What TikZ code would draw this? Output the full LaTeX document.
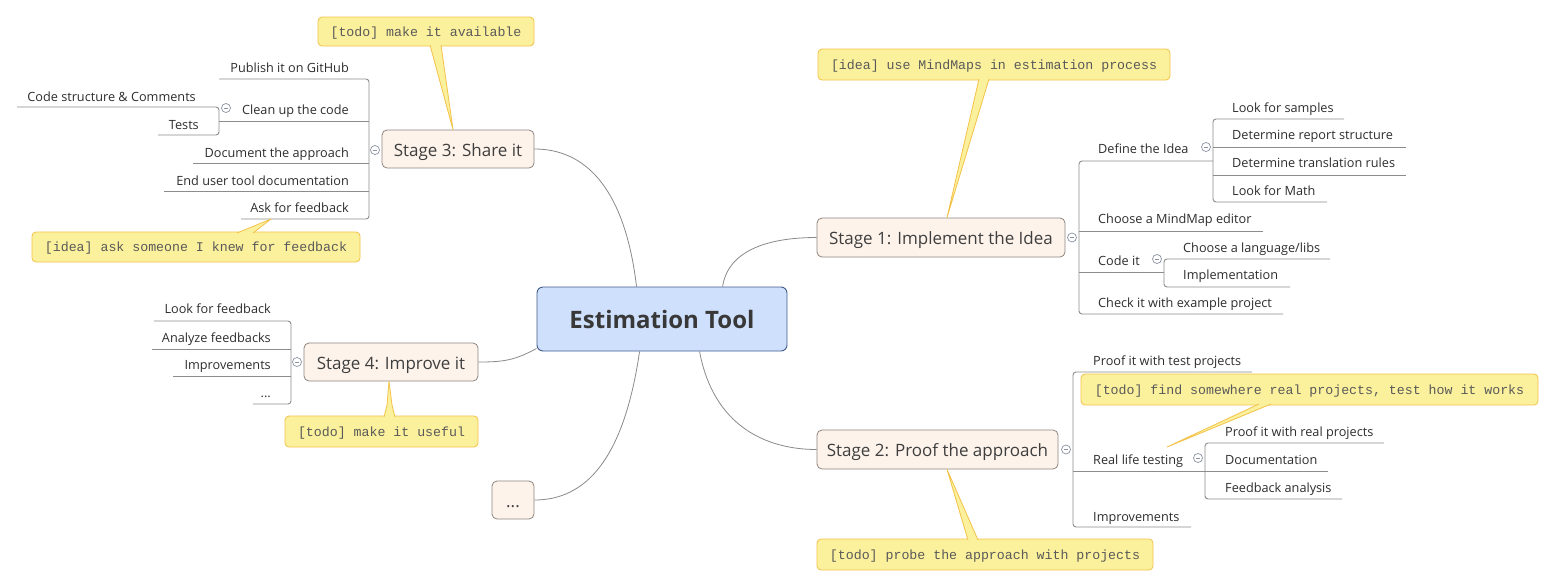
\documentclass[tikz,border=0pt]{standalone}
\usepackage{fontspec}
\setmainfont{Open Sans}
\newfontfamily\notefont{Liberation Mono}
\definecolor{centralfill}{HTML}{CFE0FD}
\definecolor{centralline}{HTML}{3F5B8C}
\definecolor{stagefill}{HTML}{FDF3EB}
\definecolor{stageline}{HTML}{8E8580}
\definecolor{notefill}{HTML}{FBF09C}
\definecolor{noteline}{HTML}{F3C24A}
\definecolor{linkcol}{HTML}{8A8A8A}
\definecolor{branchcol}{HTML}{8C8C8C}
\definecolor{leaftext}{HTML}{2E2E2E}
\definecolor{stagetext}{HTML}{3E3E3E}
\definecolor{notetext}{HTML}{5A5A5A}
\definecolor{collapsecol}{HTML}{8A93A3}
\tikzset{
  central/.style={draw=centralline, fill=centralfill, line width=0.9pt, rounded corners=6pt,
    minimum width=250pt, minimum height=64pt, inner sep=0pt, text=stagetext!90!black,
    text height=19pt, text depth=0pt,
    font=\fontsize{24}{28}\selectfont\bfseries},
  stagebox/.style={draw=stageline, fill=stagefill, line width=0.8pt, rounded corners=5pt,
    minimum height=38pt, inner sep=0pt, text=stagetext, text height=14pt, text depth=0pt,
    font=\fontsize{17}{20}\selectfont},
  leafl/.style={anchor=base west, yshift=-5.3pt, inner sep=0pt, text=leaftext,
    font=\fontsize{12.7}{15}\selectfont},
  leafr/.style={anchor=base east, yshift=-5.3pt, inner sep=0pt, text=leaftext,
    font=\fontsize{12.7}{15}\selectfont},
  notebox/.style={draw=noteline, fill=notefill, line width=0.8pt, rounded corners=4pt,
    inner sep=0pt, minimum height=30pt, text=notetext, text height=9pt, text depth=0pt,
    font=\notefont\fontsize{13.25}{15}\selectfont},
  link/.style={draw=linkcol, line width=0.8pt},
  branch/.style={draw=branchcol, line width=0.9pt, rounded corners=3pt},
  pointerfill/.style={fill=notefill},
  pointerline/.style={draw=noteline, line width=0.8pt, line join=round},
  collapse/.style={circle, draw=collapsecol, fill=white, line width=0.7pt, minimum size=9pt, inner sep=0pt,
    path picture={\draw[collapsecol, line width=0.7pt]
      ([xshift=-2.4pt]path picture bounding box.center) -- ([xshift=2.4pt]path picture bounding box.center);}}
}
\begin{document}
\begin{tikzpicture}[x=1pt, y=-1pt]
\useasboundingbox (0,0) rectangle (1555,587);
\fill[white] (0,0) rectangle (1555,587);

% ---------- main nodes ----------
\node[central] (c) at (662,319) {Estimation Tool};
\node[stagebox, minimum width=248pt, minimum height=39pt] (s1) at (941,237.5) {Stage 1: Implement the Idea};
\node[stagebox, minimum width=241pt, minimum height=39pt] (s2) at (937.5,449.5) {Stage 2: Proof the approach};
\node[stagebox, minimum width=152pt] (s3) at (458,149) {Stage 3: Share it};
\node[stagebox, minimum width=174pt] (s4) at (391,362) {Stage 4: Improve it};
\node[stagebox, minimum width=42pt] (dots) at (513,500) {...};

% ---------- central connectors ----------
\draw[link] ([xshift=186pt]c.north west) .. controls +(6,-38) and +(-45,0) .. (s1.west);
\draw[link] ([xshift=163pt]c.south west) .. controls +(14,75) and +(-50,0) .. (s2.west);
\draw[link] ([xshift=100pt]c.north west) .. controls +(-12,-100) and +(50,0) .. (s3.east);
\draw[link] ([yshift=3pt]c.south west) .. controls +(-22,12) and +(25,0) .. (s4.east);
\draw[link] ([xshift=103pt]c.south west) .. controls +(-16,110) and +(50,0) .. (dots.east);

% ---------- Stage 3 branch ----------
\coordinate (s3top) at (219,79);
\coordinate (s3bot) at (241,219);
\draw[branch] (s3top) -- (369,79) -- (369,219) -- (s3bot);
\draw[branch] (219,121) -- (369,121);
\draw[branch] (193,163) -- (369,163);
\draw[branch] (164,191) -- (369,191);
\draw[branch] (17,107) -- (219,107) -- (219,135) -- (158,135);
\node[leafr] (l31) at (349,67) {Publish it on GitHub};
\node[leafr] (l32) at (349,109) {Clean up the code};
\node[leafr] (l321) at (196,96) {Code structure \& Comments};
\node[leafr] (l322) at (199,124) {Tests};
\node[leafr] (l33) at (349,152) {Document the approach};
\node[leafr] (l34) at (349,180) {End user tool documentation};
\node[leafr] (l35) at (349,207) {Ask for feedback};
\node[collapse] (k3) at (375,150) {};
\node[collapse] (k32) at (226,108) {};

% ---------- Stage 1 branch ----------
\draw[branch] (1213,161) -- (1079,161) -- (1079,314) -- (1283,314);
\draw[branch] (1079,231) -- (1263,231);
\draw[branch] (1079,272) -- (1164,272);
\draw[branch] (1344,119) -- (1213,119) -- (1213,202) -- (1327,202);
\draw[branch] (1213,147) -- (1406,147);
\draw[branch] (1213,175) -- (1406,175);
\draw[branch] (1330,259) -- (1164,259) -- (1164,287) -- (1290,287);
\node[leafl] (l11) at (1098,148) {Define the Idea};
\node[leafl] (l111) at (1232,107) {Look for samples};
\node[leafl] (l112) at (1232,134) {Determine report structure};
\node[leafl] (l113) at (1232,162) {Determine translation rules};
\node[leafl] (l114) at (1232,190) {Look for Math};
\node[leafl] (l12) at (1098,218) {Choose a MindMap editor};
\node[leafl] (l13) at (1098,260) {Code it};
\node[leafl] (l131) at (1183,247) {Choose a language/libs};
\node[leafl] (l132) at (1183,274) {Implementation};
\node[leafl] (l14) at (1098,302) {Check it with example project};
\node[collapse] (k1) at (1072,237.5) {};
\node[collapse] (k11) at (1206,147) {};
\node[collapse] (k13) at (1157,259) {};

% ---------- Stage 2 branch ----------
\draw[branch] (1252,372) -- (1073,372) -- (1073,527) -- (1191,527);
\draw[branch] (1073,471) -- (1205,471);
\draw[branch] (1384,443) -- (1205,443) -- (1205,499) -- (1342,499);
\draw[branch] (1205,471) -- (1328,471);
\node[leafl] (l21) at (1093,360) {Proof it with test projects};
\node[leafl] (l22) at (1093,459) {Real life testing};
\node[leafl] (l221) at (1225,431) {Proof it with real projects};
\node[leafl] (l222) at (1225,459) {Documentation};
\node[leafl] (l223) at (1225,487) {Feedback analysis};
\node[leafl] (l23) at (1093,516) {Improvements};
\node[collapse] (k2) at (1066,449.5) {};
\node[collapse] (k22) at (1198,458) {};

% ---------- Stage 4 branch ----------
\draw[branch] (154,321) -- (291,321) -- (291,404) -- (253,404);
\draw[branch] (152,349) -- (291,349);
\draw[branch] (173,376) -- (291,376);
\node[leafr] (l41) at (271,308) {Look for feedback};
\node[leafr] (l42) at (271,337) {Analyze feedbacks};
\node[leafr] (l43) at (271,364) {Improvements};
\node[leafr] (l44) at (271,392) {...};
\node[collapse] (k4) at (297,362) {};

% ---------- notes ----------
\node[notebox, minimum width=216pt, minimum height=29pt] (n3) at (426,31.5) {[todo] make it available};
\node[notebox, minimum width=328pt] (n3b) at (196,247) {[idea] ask someone I knew for feedback};
\node[notebox, minimum width=352pt, minimum height=31pt] (n1) at (994,64.5) {[idea] use MindMaps in estimation process};
\node[notebox, minimum width=457pt, minimum height=31pt] (n2a) at (1309.5,389.5) {[todo] find somewhere real projects, test how it works};
\node[notebox, minimum width=336pt, minimum height=31pt] (n2b) at (985,554.5) {[todo] probe the approach with projects};
\node[notebox, minimum width=193pt, minimum height=31pt] (n4) at (381.5,431.5) {[todo] make it useful};

% ---------- note pointers ----------
% n3 -> s3
\coordinate (p3a) at (430,45); \coordinate (p3b) at (441,45);
\fill[pointerfill] (p3a) -- ([xshift=-5pt]s3.north) -- (p3b) -- cycle;
\draw[pointerline] (p3a) -- ([xshift=-5pt]s3.north) -- (p3b);
% n3b -> Ask for feedback
\coordinate (p3c) at (237,233); \coordinate (p3d) at (253,233); \coordinate (p3t) at (271,219);
\fill[pointerfill] (p3c) -- (p3t) -- (p3d) -- cycle;
\draw[pointerline] (p3c) -- (p3t) -- (p3d);
% n1 -> s1
\coordinate (p1a) at (979,79); \coordinate (p1b) at (989,79);
\fill[pointerfill] (p1a) -- ([xshift=6pt]s1.north) -- (p1b) -- cycle;
\draw[pointerline] (p1a) -- ([xshift=6pt]s1.north) -- (p1b);
% n2a -> Real life testing
\coordinate (p2a) at (1259,404); \coordinate (p2b) at (1271,404); \coordinate (p2t) at (1167,447);
\fill[pointerfill] (p2a) -- (p2t) -- (p2b) -- cycle;
\draw[pointerline] (p2a) -- (p2t) -- (p2b);
% n2b -> s2
\coordinate (p2c) at (968,540); \coordinate (p2d) at (978,540);
\fill[pointerfill] (p2c) -- ([xshift=9.5pt]s2.south) -- (p2d) -- cycle;
\draw[pointerline] (p2c) -- ([xshift=9.5pt]s2.south) -- (p2d);
% n4 -> s4
\coordinate (p4a) at (384,417); \coordinate (p4b) at (395,417); \coordinate (p4m) at (387,405); \coordinate (p4n) at (392,405);
\fill[pointerfill] (p4a) -- (p4m) -- ([xshift=-2pt]s4.south) -- (p4n) -- (p4b) -- cycle;
\draw[pointerline] (p4a) -- (p4m) -- ([xshift=-2pt]s4.south) -- (p4n) -- (p4b);
\end{tikzpicture}
\end{document}
